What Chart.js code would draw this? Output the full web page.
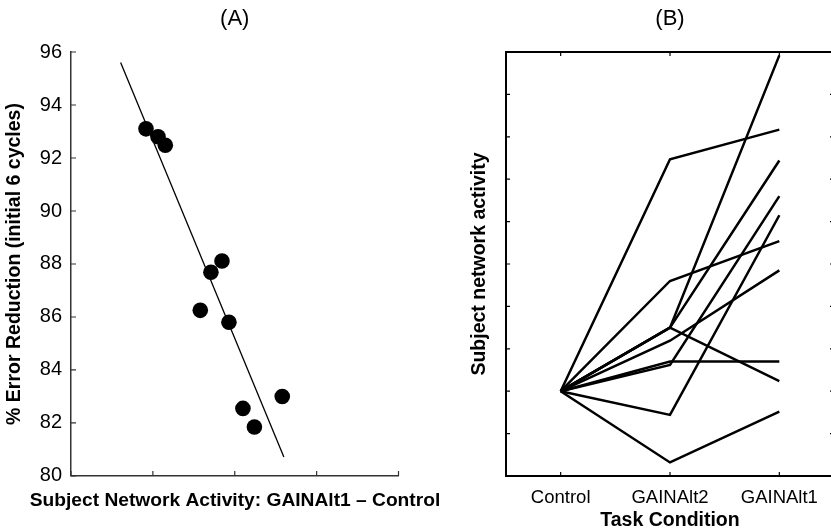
<!DOCTYPE html>
<html><head><meta charset="utf-8">
<script src="https://cdn.jsdelivr.net/npm/chart.js@4/dist/chart.umd.min.js"></script>
<style>
html,body{margin:0;padding:0;background:#fff;overflow:hidden;width:831px;height:531px;}
#wa{position:absolute;left:0;top:0;width:470px;height:531px;}
#wb{position:absolute;left:420px;top:0;width:420px;height:531px;}
</style></head><body>
<div id="wa"><canvas id="ca"></canvas></div>
<div id="wb"><canvas id="cb"></canvas></div>
<script>
// ---- Panel A data ----
const activityDiff   = [0.916, 1.063, 1.152, 1.709, 1.844, 1.579, 1.929, 2.10, 2.24, 2.58];
const errorReduction = [93.10, 92.80, 92.48, 87.69, 88.11, 86.25, 85.80, 82.55, 81.85, 83.00];
const fitX = [0.606, 2.60];
const fitY = [95.60, 80.72];
const yTicksA = [80, 82, 84, 86, 88, 90, 92, 94, 96];

// ---- Panel B data ----
const conditions = ['Control', 'GAINAlt2', 'GAINAlt1'];
const subj1  = [2.0, 7.47, 8.17];
const subj2  = [2.0, 4.60, 5.54];
const subj3  = [2.0, 3.50, 9.92];
const subj4  = [2.0, 3.50, 7.44];
const subj5  = [2.0, 3.50, 2.24];
const subj6  = [2.0, 3.19, 4.85];
const subj7  = [2.0, 2.62, 6.60];
const subj8  = [2.0, 2.70, 2.70];
const subj9  = [2.0, 1.44, 6.15];
const subj10 = [2.0, 0.32, 1.52];
const subjects = [subj1, subj2, subj3, subj4, subj5, subj6, subj7, subj8, subj9, subj10];

Chart.defaults.font.family = "'Liberation Sans', Arial, Helvetica, sans-serif";
Chart.defaults.color = '#000';

const inwardTicks = {
  id: 'inwardTicks',
  afterDatasetsDraw(chart, args, opts) {
    const {ctx, chartArea: a, scales: {x, y}} = chart;
    const len = opts.len;
    ctx.save();
    ctx.strokeStyle = opts.color;
    ctx.lineWidth = opts.width;
    ctx.beginPath();
    x.ticks.forEach((t, i) => {
      const px = x.getPixelForTick(i);
      ctx.moveTo(px, a.bottom); ctx.lineTo(px, a.bottom - len);
      if (opts.box) { ctx.moveTo(px, a.top); ctx.lineTo(px, a.top + len); }
    });
    y.ticks.forEach((t, i) => {
      const py = y.getPixelForTick(i);
      ctx.moveTo(a.left, py); ctx.lineTo(a.left + len, py);
      if (opts.box) { ctx.moveTo(a.right, py); ctx.lineTo(a.right - len, py); }
    });
    ctx.stroke();
    if (opts.box) {
      ctx.lineWidth = opts.boxWidth;
      ctx.strokeRect(a.left, a.top, a.right - a.left, a.bottom - a.top);
    }
    ctx.restore();
  }
};

const panelTitle = (text) => ({
  type: 'linear', position: 'top', axis: 'x', min: 0, max: 1,
  ticks: {display: false}, grid: {display: false, drawTicks: false}, border: {display: false},
  title: {display: true, text: text, color: '#000', font: {size: 22, weight: 'normal', lineHeight: 1.2}, padding: {top: 6, bottom: 0}},
  afterFit: s => { s.height = 52; }
});

new Chart(document.getElementById('ca'), {
  type: 'scatter',
  data: {
    datasets: [
      {
        type: 'line',
        data: fitX.map((x, i) => ({x: x, y: fitY[i]})),
        borderColor: '#000', borderWidth: 1.3, pointRadius: 0, tension: 0, fill: false
      },
      {
        data: activityDiff.map((x, i) => ({x: x, y: errorReduction[i]})),
        backgroundColor: '#000', borderColor: '#000', borderWidth: 0, pointRadius: 7.8, pointHoverRadius: 7.8
      }
    ]
  },
  options: {
    responsive: true, maintainAspectRatio: false, animation: false,
    events: [],
    layout: {padding: 0},
    plugins: {
      legend: {display: false}, tooltip: {enabled: false},
      title: {display: true, position: 'bottom', align: 'center',
              text: 'Subject Network Activity: GAINAlt1 \u2013 Control', color: '#000',
              font: {size: 19.2, weight: 'bold', lineHeight: 1.2}, padding: {top: 13.5, bottom: 18.5}},
      inwardTicks: {len: 5, color: '#333', width: 1.2, box: false}
    },
    scales: {
      x: {
        type: 'linear', min: 0, max: 4,
        ticks: {display: false, stepSize: 1},
        grid: {display: false, drawTicks: false},
        border: {display: true, color: '#333', width: 1.5},
        title: {display: false},
        afterFit: s => { s.height = 0; }
      },
      xTop: panelTitle('(A)'),
      y: {
        type: 'linear', min: 80, max: 96,
        afterBuildTicks: s => { s.ticks = yTicksA.map(v => ({value: v})); },
        ticks: {font: {size: 20}, color: '#000', padding: 9},
        grid: {display: false, drawTicks: false},
        border: {display: true, color: '#333', width: 1.5},
        title: {display: true, text: '% Error Reduction (initial 6 cycles)', color: '#000',
                font: {size: 19.5, weight: 'bold', lineHeight: 1.2}, padding: {top: 3.3, bottom: 0}},
        afterFit: s => { s.width = 71; }
      },
      yRight: {
        type: 'linear', position: 'right', axis: 'y', min: 0, max: 1,
        ticks: {display: false}, grid: {display: false, drawTicks: false}, border: {display: false},
        title: {display: false},
        afterFit: s => { s.width = 71.5; }
      }
    }
  },
  plugins: [inwardTicks]
});

new Chart(document.getElementById('cb'), {
  type: 'line',
  data: {
    labels: conditions,
    datasets: subjects.map(s => ({
      data: s, borderColor: '#000', borderWidth: 2.5, pointRadius: 0, tension: 0, fill: false
    }))
  },
  options: {
    responsive: true, maintainAspectRatio: false, animation: false,
    events: [],
    layout: {padding: {left: 0, right: 6, top: 0, bottom: 0}},
    plugins: {
      legend: {display: false}, tooltip: {enabled: false}, title: {display: false},
      inwardTicks: {len: 4, color: '#000', width: 1.2, box: true, boxWidth: 2}
    },
    scales: {
      x: {
        type: 'category', offset: true,
        ticks: {font: {size: 18.5}, color: '#000', padding: 11, maxRotation: 0, autoSkip: false},
        grid: {display: false, drawTicks: false, offset: true},
        border: {display: false},
        title: {display: true, text: 'Task Condition', color: '#000',
                font: {size: 19.5, weight: 'bold', lineHeight: 1.0}, padding: {top: 0, bottom: 0.5}},
        afterFit: s => { s.height = 55; }
      },
      xTop: panelTitle('(B)'),
      y: {
        type: 'linear', min: 0, max: 10,
        ticks: {display: false, stepSize: 1},
        grid: {display: false, drawTicks: false},
        border: {display: false},
        title: {display: true, text: 'Subject network activity', color: '#000',
                font: {size: 19.5, weight: 'bold', lineHeight: 1.2}, padding: {top: 48.3, bottom: 0}},
        afterFit: s => { s.width = 86; }
      }
    }
  },
  plugins: [inwardTicks]
});
</script>
</body></html>
